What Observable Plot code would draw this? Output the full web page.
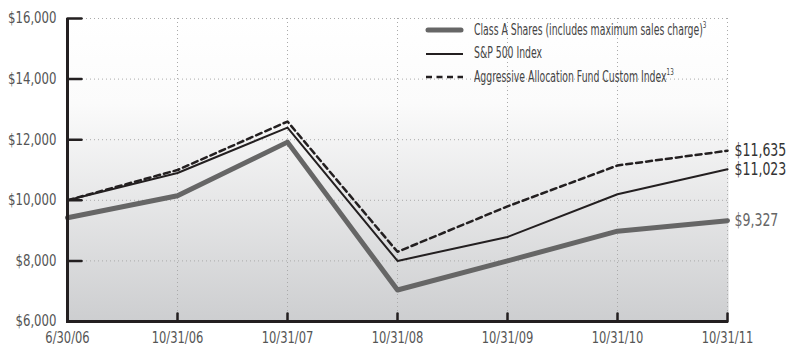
<!DOCTYPE html>
<html><head><meta charset="utf-8">
<script src="https://cdn.jsdelivr.net/npm/d3@7"></script>
<script src="https://cdn.jsdelivr.net/npm/@observablehq/plot@0.6"></script>
<style>
body{margin:0;background:#fff;font-family:"Liberation Sans Narrow","DejaVu Sans Condensed",sans-serif;}
#wrap{position:relative;width:791px;height:349px;}
#legend{position:absolute;left:424px;top:18.5px;font-size:15px;color:#444;line-height:23.5px;}
#legend div{display:flex;align-items:center;white-space:nowrap;height:23.5px;}
#legend svg{margin-right:10px;flex:none;}
#legend span{display:inline-block;transform:scaleX(0.69);transform-origin:0 50%;}
sup{font-size:9px;vertical-align:7px;line-height:0;}
</style></head>
<body>
<svg width="0" height="0" style="position:absolute"><defs>
<linearGradient id="bg" x1="0" y1="0" x2="0" y2="1">
<stop offset="0" stop-color="#ffffff"/><stop offset="0.28" stop-color="#fbfbfb"/><stop offset="1" stop-color="#cdced0"/>
</linearGradient></defs></svg>
<div id="wrap"><div id="chart"></div>
<div id="legend">
<div><svg width="40" height="8"><line x1="4" y1="4" x2="37" y2="4" stroke="#666" stroke-width="5" stroke-linecap="round"/></svg><span>Class A Shares (includes maximum sales charge)<sup>3</sup></span></div>
<div><svg width="40" height="8"><line x1="2" y1="4" x2="39" y2="4" stroke="#231f20" stroke-width="2.2"/></svg><span>S&amp;P 500 Index</span></div>
<div><svg width="40" height="8"><line x1="2" y1="4" x2="39" y2="4" stroke="#231f20" stroke-width="2.5" stroke-dasharray="6,4.5"/></svg><span>Aggressive Allocation Fund Custom Index<sup>13</sup></span></div>
</div></div>
<script>
const dates = ["6/30/06","10/31/06","10/31/07","10/31/08","10/31/09","10/31/10","10/31/11"];
const classA = [9425, 10150, 11920, 7040, 8000, 8980, 9327];
const sp500 = [10000, 10900, 12400, 8000, 8790, 10200, 11023];
const customIdx = [10000, 11000, 12600, 8300, 9800, 11150, 11635];
const yTicks = [6000, 8000, 10000, 12000, 14000, 16000];
const labelColors = ["#333", "#333", "#666"];

const toRows = (vals) => dates.map((d, i) => ({date: d, value: vals[i]}));
const rA = toRows(classA), rS = toRows(sp500), rC = toRows(customIdx);
const fmt = d => "$" + d3.format(",")(d);
const ends = [rC[6], rS[6], rA[6]];
const tickShape = {draw(context, l) { context.moveTo(0, 0); context.lineTo(0, -l); }};

const chart = Plot.plot({
  width: 791, height: 349,
  marginLeft: 66, marginRight: 63, marginTop: 18, marginBottom: 28,
  style: {fontFamily: '"Liberation Sans Narrow","DejaVu Sans Condensed",sans-serif', background: "transparent"},
  x: {type: "point", domain: dates, padding: 0},
  y: {domain: [6000, 16000]},
  marks: [
    Plot.frame({fill: "url(#bg)", stroke: null}),
    Plot.gridX(dates.slice(1), {stroke: "#aaa", strokeOpacity: 1, strokeDasharray: "1,3", strokeWidth: 1}),
    Plot.gridY(yTicks.slice(1), {stroke: "#aaa", strokeOpacity: 1, strokeDasharray: "1,3", strokeWidth: 1}),
    Plot.line(rA, {x: "date", y: "value", stroke: "#666", strokeWidth: 5}),
    Plot.line(rS, {x: "date", y: "value", stroke: "#231f20", strokeWidth: 2}),
    Plot.line(rC, {x: "date", y: "value", stroke: "#231f20", strokeWidth: 2.5, strokeDasharray: "6,4"}),
    Plot.text(ends, {x: "date", y: "value", text: d => fmt(d.value), textAnchor: "start", dx: 7, fontSize: 17, fill: (d, i) => labelColors[i]}),
    Plot.vector(yTicks, {x: () => dates[0], y: d => d, rotate: 90, length: 14, anchor: "start", shape: tickShape, stroke: "#231f20", strokeWidth: 2.5}),
    Plot.vector(dates.slice(1), {x: d => d, y: () => 6000, rotate: 0, length: 8, anchor: "start", shape: tickShape, stroke: "#231f20", strokeWidth: 2.5}),
    Plot.axisY(yTicks, {tickSize: 0, tickPadding: 10, tickFormat: fmt, fontSize: 15, fill: "#555", label: null}),
    Plot.axisX(dates, {tickSize: 0, tickPadding: 10, fontSize: 16, fill: "#555", label: null}),
    Plot.ruleX([dates[0]], {stroke: "#231f20", strokeWidth: 3}),
    Plot.ruleY([6000], {stroke: "#231f20", strokeWidth: 3})
  ]
});
// condense the glyphs horizontally to mimic a condensed typeface
function squeeze(sel, s) {
  chart.querySelectorAll(sel).forEach(t => {
    let pre = "";
    const xa = t.getAttribute("x");
    if (xa !== null && /^-?[\d.]+$/.test(xa) && +xa !== 0) {
      pre = ` translate(${+xa},0)`;
      t.removeAttribute("x");
    }
    t.setAttribute("transform", (t.getAttribute("transform") || "") + pre + ` scale(${s},1)`);
  });
}
squeeze('g[aria-label="y-axis tick label"] text', 0.87);
squeeze('g[aria-label="x-axis tick label"] text', 0.8);
squeeze('g[aria-label="text"] text', 0.82);
document.getElementById("chart").append(chart);
</script>
</body></html>
